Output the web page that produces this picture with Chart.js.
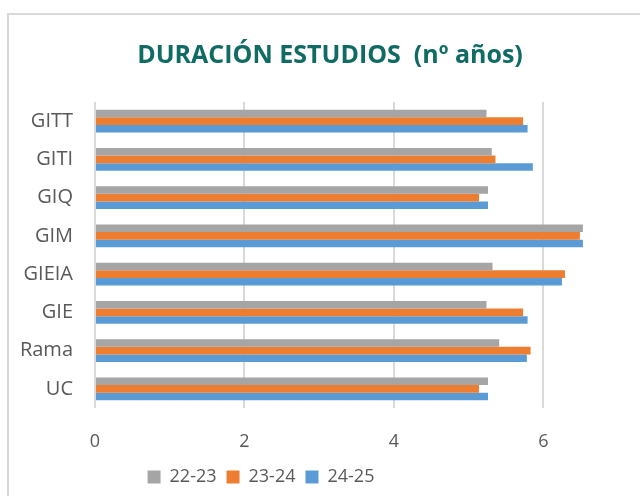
<!DOCTYPE html>
<html lang="es">
<head>
    <meta charset="UTF-8">
    <title>Duración estudios</title>
    <script src="https://cdn.jsdelivr.net/npm/chart.js"></script>
    <style>
        body { margin: 0; background: #fff; }
        .marco { position: absolute; left: 7px; top: 13px; width: 700px; height: 600px; border: 2px solid #d9d9d9; }
        .lienzo { position: absolute; left: 0; top: 0; width: 640px; height: 496px; }
    </style>
</head>
<body>
    <div class="marco"></div>
    <div class="lienzo">
        <canvas id="duracionChart" width="640" height="496"></canvas>
    </div>

    <script>
        // Datos (de arriba a abajo)
        const titulaciones = ['GITT', 'GITI', 'GIQ', 'GIM', 'GIEIA', 'GIE', 'Rama', 'UC'];
        const cursos = ['22-23', '23-24', '24-25'];
        const curso2223 = [5.24, 5.31, 5.26, 6.53, 5.32, 5.24, 5.41, 5.26];
        const curso2324 = [5.73, 5.36, 5.14, 6.49, 6.29, 5.73, 5.83, 5.14];
        const curso2425 = [5.79, 5.86, 5.26, 6.53, 6.25, 5.79, 5.78, 5.26];
        const ticksX = [0, 2, 4, 6];

        const colores = ['#a5a5a5', '#ed7d31', '#5b9bd5'];
        const fuente = "'Open Sans', 'Liberation Sans', sans-serif";

        // Excel no centra título y leyenda sobre todo el lienzo: se desplazan
        const desplazar = {
            id: 'desplazar',
            afterUpdate(chart) {
                chart.titleBlock.left += 21;
                chart.titleBlock.right += 21;
                chart.legend.left -= 48;
                chart.legend.right -= 48;
            }
        };

        const ctx = document.getElementById('duracionChart').getContext('2d');
        new Chart(ctx, {
            type: 'bar',
            data: {
                labels: titulaciones,
                datasets: [curso2223, curso2324, curso2425].map((serie, i) => ({
                    label: cursos[i],
                    data: serie,
                    backgroundColor: colores[i],
                    borderWidth: 0,
                    categoryPercentage: 0.6,
                    barPercentage: 1.0
                }))
            },
            options: {
                indexAxis: 'y',
                responsive: false,
                animation: false,
                layout: { padding: { left: 0, right: 22, bottom: 0 } },
                plugins: {
                    title: {
                        display: true,
                        text: 'DURACIÓN ESTUDIOS  (nº años)',
                        color: '#0f6b63',
                        font: { family: fuente, size: 25, weight: 'bold' },
                        padding: { top: 41, bottom: 31 }
                    },
                    legend: {
                        position: 'bottom',
                        labels: {
                            color: '#595959',
                            font: { family: fuente, size: 18 },
                            boxWidth: 13,
                            boxHeight: 13,
                            padding: 10
                        }
                    },
                    tooltip: { enabled: false }
                },
                scales: {
                    x: {
                        min: 0,
                        max: 7,
                        afterBuildTicks: (scale) => {
                            scale.ticks = ticksX.map(v => ({ value: v }));
                        },
                        afterFit: (scale) => { scale.height = 50; },
                        grid: { color: '#d9d9d9', lineWidth: 2, drawTicks: false },
                        border: { display: false },
                        ticks: {
                            color: '#595959',
                            font: { family: fuente, size: 18 },
                            padding: 23
                        }
                    },
                    y: {
                        afterFit: (scale) => { scale.width = 95; },
                        grid: { display: false, drawTicks: false },
                        border: { display: false },
                        ticks: {
                            color: '#595959',
                            font: { family: fuente, size: 20 },
                            padding: 22
                        }
                    }
                }
            },
            plugins: [desplazar]
        });
    </script>
</body>
</html>
